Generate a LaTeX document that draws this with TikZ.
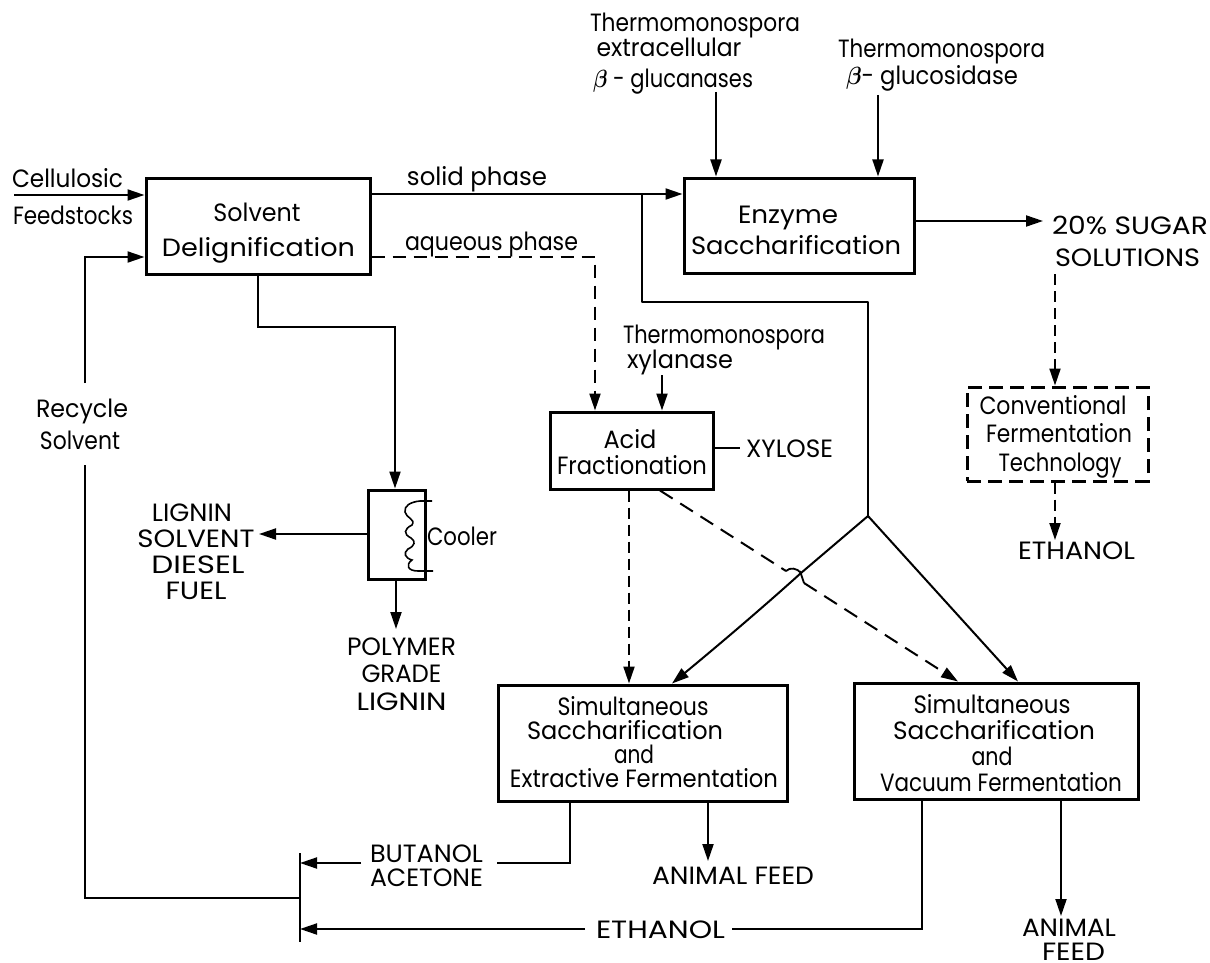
\documentclass[tikz,border=0pt]{standalone}
\usepackage{graphicx}
\usepackage{fontspec}
\setmainfont{Poppins}
\usetikzlibrary{arrows.meta}
\newcommand{\linefit}[3]{\hspace*{\dimexpr #1pt+#1pt\relax}\smash{\resizebox{#2pt}{\height}{#3}}}
\newcommand{\tstrut}[1]{\rule{0pt}{#1pt}}
\newcommand{\bt}{{\boldmath$\beta$}}
\tikzset{
 x=1pt,y=-1pt,
 lbl/.style={inner sep=0pt,outer sep=0pt,align=center,font=\fontsize{25}{#1}\selectfont},
 lbl/.default=28,
 proc/.style={draw,line width=3pt,inner sep=0pt,align=center,font=\fontsize{25}{#1}\selectfont},
 proc/.default=28,
 dproc/.style={proc=#1,dash pattern=on 14pt off 7pt},
 head/.style={-{Triangle[length=17pt,width=11pt]}},
 flow/.style={line width=2pt,head},
 plain/.style={line width=2pt},
 dflow/.style={line width=2pt,dash pattern=on 11pt off 6pt,head},
 dline/.style={line width=2pt,dash pattern=on 15pt off 9pt},
}
\begin{document}
\begin{tikzpicture}
\useasboundingbox[fill=white] (0,0) rectangle (1210,963);
% boxes
\node[proc=35,minimum width=224pt,minimum height=96pt] (solv) at (258,226)
  {\tstrut{25}\linefit{-1}{87}{Solvent}\\\linefit{0.5}{193}{Delignification}};
\node[proc=31,minimum width=230pt,minimum height=95pt] (enz) at (799,225.5)
  {\tstrut{26}\linefit{-11}{100}{Enzyme}\\\linefit{-3}{210}{Saccharification}};
\node[proc=26,minimum width=163pt,minimum height=77pt] (acid) at (631.5,450.5)
  {\tstrut{21}\linefit{-1.5}{53}{Acid}\\\linefit{0.5}{150}{Fractionation}};
\node[proc,minimum width=57pt,minimum height=89pt] (cool) at (396.5,534.5) {};
\node[dproc=28.5,minimum width=181pt,minimum height=94pt] (conv) at (1057.5,434)
  {\tstrut{17}\linefit{-4.5}{147}{Conventional}\\\linefit{1.5}{146}{Fermentation}\\\linefit{2.5}{123}{Technology}};
\node[proc=24.3,minimum width=289pt,minimum height=116pt] (ssef) at (642.5,743)
  {\tstrut{17}\linefit{-9.5}{151}{Simultaneous}\\\linefit{-17.5}{196}{Saccharification}\\\linefit{-8.5}{40}{and}\\\linefit{1.5}{268}{Extractive Fermentation}};
\node[proc=26,minimum width=284pt,minimum height=116pt] (ssvf) at (996,741)
  {\tstrut{22}\linefit{-4}{157}{Simultaneous}\\\linefit{-2}{202}{Saccharification}\\\linefit{-4}{41}{and}\\\linefit{5}{242}{Vacuum Fermentation}};
% labels
\node[lbl=28] (tm1) at (695,60) {\linefit{0}{210}{Thermomonospora}\\[-3pt]\linefit{-26}{145}{extracellular}\\[3pt]\linefit{-22}{160}{\bt\ - glucanases}};
\node[lbl=27] (tm2) at (941.5,71.5) {\linefit{0}{207}{Thermomonospora}\\\linefit{-9.5}{172}{\bt - glucosidase}};
\node[lbl=25] (tm3) at (724,355.5) {\linefit{0}{202}{Thermomonospora}\\\linefit{-44}{106}{xylanase}};
\node[lbl] (cell) at (67.5,187) {\linefit{0}{111}{Cellulosic}};
\node[lbl] (feed) at (73,224) {\linefit{0}{120}{Feedstocks}};
\node[lbl] (sol) at (477,185) {\linefit{0}{140}{solid phase}};
\node[lbl] (aq) at (491.5,250) {\linefit{0}{173}{aqueous phase}};
\node[lbl=32] (sug) at (1130,250) {\linefit{0}{156}{20\% SUGAR}\\\linefit{-2.5}{145}{SOLUTIONS}};
\node[lbl=32] (rec) at (82,433) {\linefit{0}{92}{Recycle}\\\linefit{-2}{80}{Solvent}};
\node[lbl=26.3] (lig) at (196,560.5) {\linefit{-4}{80}{LIGNIN}\\\linefit{0}{117}{SOLVENT}\\\linefit{2}{93}{DIESEL}\\\linefit{0}{61}{FUEL}};
\node[lbl] (cl) at (462,545) {\linefit{0}{70}{Cooler}};
\node[lbl=27.5] (poly) at (401.5,682.5) {\linefit{0}{109}{POLYMER}\\\linefit{0}{80}{GRADE}\\\linefit{0}{90}{LIGNIN}};
\node[lbl] (xyl) at (789.5,457) {\linefit{0}{87}{XYLOSE}};
\node[lbl] (eth) at (1076.5,559) {\linefit{0}{117}{ETHANOL}};
\node[lbl=24] (buac) at (426.5,874) {\linefit{0}{113}{BUTANOL}\\\linefit{0}{113}{ACETONE}};
\node[lbl] (af1) at (733,884) {\linefit{0}{162}{ANIMAL FEED}};
\node[lbl] (eth2) at (660.5,938) {\linefit{0}{129}{ETHANOL}};
\node[lbl=24] (af2) at (1069,948.5) {\linefit{0}{94}{ANIMAL}\\\linefit{4.5}{63}{FEED}};
% free ends and junctions
\coordinate (jn) at (868,516);
\coordinate (bartop) at (300,853);
\coordinate (barbot) at (300,942);
\coordinate (bus) at (300,898);
\coordinate (in) at (14,195);
\coordinate (barb) at (300,863);
\coordinate (bare) at (300,929);
\coordinate (bl) at (642,194);
\coordinate (t1) at (716,92);
\coordinate (t2) at (878,95);
\coordinate (t3) at (662,375);
\coordinate (tipsug) at (1043,221);
\coordinate (sugb) at (1055,274);
\coordinate (tipeth) at (1055,540);
\coordinate (xylb) at (740,448);
\coordinate (tiplig) at (259,534);
\coordinate (tippol) at (396,629);
\coordinate (tipaf1) at (708,861);
\coordinate (tipaf2) at (1061,916);
\coordinate (recup) at (85,383);
\coordinate (recdn) at (85,465);
\coordinate (bubr) at (497,863);
\coordinate (bubl) at (361,863);
\coordinate (ethr) at (732,929);
\coordinate (ethl) at (585,929);
\coordinate (dA) at (786,571);
\coordinate (dB) at (804,583);
\coordinate (cross) at (801,573);
% connectors
\draw[line width=2pt] (bartop) -- (barbot);
\draw[flow] (in) -- (solv.west |- 0,195);
\draw[flow] (solv.east |- 0,194) -- (enz.west |- 0,194);
\draw[plain,line join=round] (bl) -- (642,302) -- (868,302) -- (jn);
\draw[flow] (t1) -- (enz.north -| 716,0);
\draw[flow] (t2) -- (enz.north -| 878,0);
\draw[flow] (enz.east |- 0,221) -- (tipsug);
\draw[dflow] (sugb) -- (conv.north -| 1055,0);
\draw[dflow] (conv.south -| 1055,0) -- (tipeth);
\draw[dflow,dash pattern=on 13pt off 8pt] (solv.east |- 0,257) -- (595,257) -- (acid.north -| 595,0);
\draw[flow] (t3) -- (acid.north -| 662,0);
\draw[plain] (acid.east |- 0,448) -- (xylb);
\draw[flow] (solv.south -| 258,0) -- (258,327) -- (395,327) -- (cool.north -| 395,0);
\draw[flow] (cool.west |- 0,534) -- (tiplig);
\draw[flow] (cool.south -| 396,0) -- (tippol);
\draw[dflow] (acid.south -| 629,0) -- (ssef.north -| 629,0);
\draw[dline] (acid.south -| 660,0) -- (dA);
\draw[dline,head] (dB) -- (ssvf.north -| 958,0);
\draw[flow] (jn) -- (cross) .. controls (760,610) and (715,648) .. (ssef.north -| 672,0);
\draw[flow] (jn) -- (ssvf.north -| 1018,0);
\draw[line width=1.8pt] (dA) .. controls (790,567) and (797,568) .. (cross) (800,571) -- (dB);
\draw[line width=1.6pt] (432,501) -- (420,501) .. controls (410,502) and (404,506) .. (405,512)
  .. controls (406,518) and (416,519) .. (412,525) .. controls (404,529) and (403,534) .. (411,538)
  .. controls (416,541) and (415,546) .. (408,549) .. controls (403,553) and (405,558) .. (412,560)
  .. controls (405,565) and (408,571) .. (418,571) -- (433,571);
\draw[plain] (ssef.south -| 570,0) -- (570,863) -- (bubr);
\draw[flow] (bubl) -- (barb);
\draw[flow] (ssef.south -| 708,0) -- (tipaf1);
\draw[plain] (ssvf.south -| 922,0) -- (922,929) -- (ethr);
\draw[flow] (ethl) -- (bare);
\draw[flow] (ssvf.south -| 1061,0) -- (tipaf2);
\draw[plain] (bus) -- (85,898) -- (recdn);
\draw[flow] (recup) -- (85,257) -- (solv.west |- 0,257);
\end{tikzpicture}
\end{document}
